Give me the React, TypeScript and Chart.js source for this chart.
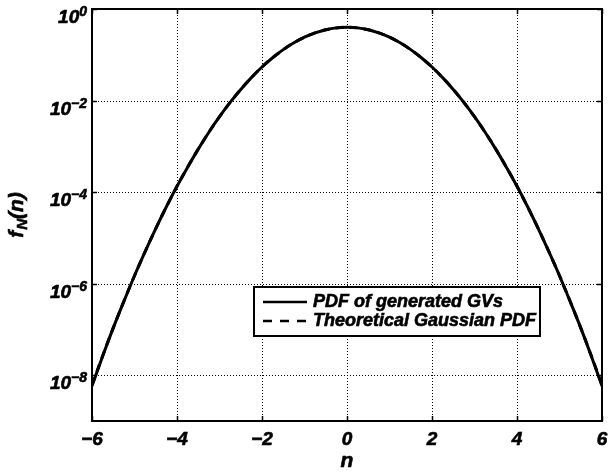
import React, { useEffect, useRef } from "react";
import { Chart, registerables } from "chart.js";

Chart.register(...registerables);

// sample positions n
const nValues = [
  -6, -5.75, -5.5, -5.25, -5, -4.75, -4.5, -4.25, -4, -3.75, -3.5, -3.25, -3,
  -2.75, -2.5, -2.25, -2, -1.75, -1.5, -1.25, -1, -0.75, -0.5, -0.25, 0,
  0.25, 0.5, 0.75, 1, 1.25, 1.5, 1.75, 2, 2.25, 2.5, 2.75, 3, 3.25, 3.5,
  3.75, 4, 4.25, 4.5, 4.75, 5, 5.25, 5.5, 5.75, 6,
];

// estimated PDF of the generated values
const pdfGenerated = [
  5.8e-9, 2.6e-8, 1.08e-7, 4.1e-7, 1.49e-6, 5.0e-6, 1.6e-5, 4.8e-5, 1.34e-4,
  3.5e-4, 8.7e-4, 2.03e-3, 4.43e-3, 9.1e-3, 1.75e-2, 3.17e-2, 5.4e-2, 8.6e-2,
  0.1295, 0.1826, 0.242, 0.301, 0.352, 0.387, 0.399,
  0.387, 0.352, 0.301, 0.242, 0.1826, 0.1295, 8.6e-2, 5.4e-2, 3.17e-2,
  1.75e-2, 9.1e-3, 4.43e-3, 2.03e-3, 8.7e-4, 3.5e-4, 1.34e-4, 4.8e-5, 1.6e-5,
  5.0e-6, 1.49e-6, 4.1e-7, 1.08e-7, 2.6e-8, 5.8e-9,
];

// theoretical Gaussian PDF at the same positions
const pdfTheoretical = [
  6.1e-9, 2.64e-8, 1.08e-7, 4.13e-7, 1.49e-6, 5.03e-6, 1.6e-5, 4.77e-5,
  1.34e-4, 3.53e-4, 8.73e-4, 2.03e-3, 4.43e-3, 9.09e-3, 1.75e-2, 3.17e-2,
  5.4e-2, 8.63e-2, 0.1295, 0.1826, 0.242, 0.3011, 0.3521, 0.3867, 0.3989,
  0.3867, 0.3521, 0.3011, 0.242, 0.1826, 0.1295, 8.63e-2, 5.4e-2, 3.17e-2,
  1.75e-2, 9.09e-3, 4.43e-3, 2.03e-3, 8.73e-4, 3.53e-4, 1.34e-4, 4.77e-5,
  1.6e-5, 5.03e-6, 1.49e-6, 4.13e-7, 1.08e-7, 2.64e-8, 6.1e-9,
];

const xTicks = [-6, -4, -2, 0, 2, 4, 6];
const xTickLabels = ["\u22126", "\u22124", "\u22122", "0", "2", "4", "6"];
const yTickExponents = [0, -2, -4, -6, -8];
const legendLabels = ["PDF of generated GVs", "Theoretical Gaussian PDF"];

const FONT_FAMILY = "'Liberation Sans', Arial, sans-serif";
const font = (size: number) => `italic bold ${size}px ${FONT_FAMILY}`;

// bold text with a thin outline to thicken the strokes
function heavyText(ctx: CanvasRenderingContext2D, s: string, x: number, y: number) {
  ctx.fillText(s, x, y);
  ctx.lineWidth = 0.6;
  ctx.strokeText(s, x, y);
}

const decorations = {
  id: "matlabDecorations",
  beforeDatasetsDraw(chart: any) {
    const { ctx, chartArea: a, scales } = chart;
    const x = scales.x;
    const y = scales.y;
    ctx.save();
    ctx.strokeStyle = "#000";
    ctx.lineWidth = 1;
    ctx.setLineDash([1, 2]);
    for (const t of xTicks) {
      const px = Math.round(x.getPixelForValue(t)) + 0.5;
      ctx.beginPath();
      ctx.moveTo(px, a.top);
      ctx.lineTo(px, a.bottom);
      ctx.stroke();
    }
    for (const e of yTickExponents) {
      const py = Math.round(y.getPixelForValue(Math.pow(10, e))) + 0.5;
      ctx.beginPath();
      ctx.moveTo(a.left, py);
      ctx.lineTo(a.right, py);
      ctx.stroke();
    }
    ctx.restore();
  },
  afterDraw(chart: any) {
    const { ctx, chartArea: a, scales } = chart;
    const x = scales.x;
    const y = scales.y;
    ctx.save();
    ctx.setLineDash([]);
    ctx.strokeStyle = "#000";
    ctx.fillStyle = "#000";

    // inward tick marks
    ctx.lineWidth = 1.5;
    const tl = 5;
    for (const t of xTicks) {
      const px = Math.round(x.getPixelForValue(t)) + 0.5;
      ctx.beginPath();
      ctx.moveTo(px, a.bottom);
      ctx.lineTo(px, a.bottom - tl);
      ctx.moveTo(px, a.top);
      ctx.lineTo(px, a.top + tl);
      ctx.stroke();
    }
    for (const e of yTickExponents) {
      const py = Math.round(y.getPixelForValue(Math.pow(10, e))) + 0.5;
      ctx.beginPath();
      ctx.moveTo(a.left, py);
      ctx.lineTo(a.left + tl, py);
      ctx.moveTo(a.right, py);
      ctx.lineTo(a.right - tl, py);
      ctx.stroke();
    }

    // axes box
    ctx.lineWidth = 2;
    ctx.strokeRect(a.left, a.top, a.right - a.left, a.bottom - a.top);

    // x tick labels
    ctx.font = font(19);
    ctx.textAlign = "center";
    ctx.textBaseline = "middle";
    xTicks.forEach((t, i) => {
      heavyText(ctx, xTickLabels[i], x.getPixelForValue(t), a.bottom + 19);
    });

    // y tick labels: 10 with superscript exponent
    ctx.textBaseline = "alphabetic";
    yTickExponents.forEach((e) => {
      const py = y.getPixelForValue(Math.pow(10, e));
      const sup = e === 0 ? "0" : "\u2212" + String(-e);
      ctx.font = font(14);
      const supW = ctx.measureText(sup).width;
      ctx.font = font(19);
      const baseW = ctx.measureText("10").width;
      const right = a.left - 5;
      ctx.textAlign = "left";
      heavyText(ctx, "10", right - supW - baseW, py + 14);
      ctx.font = font(14);
      heavyText(ctx, sup, right - supW, py + 7);
    });

    // x axis title
    ctx.font = font(21);
    ctx.textAlign = "center";
    ctx.textBaseline = "middle";
    heavyText(ctx, "n", (a.left + a.right) / 2, a.bottom + 40);

    // y axis title f_N(n)
    ctx.save();
    ctx.translate(16, (a.top + a.bottom) / 2);
    ctx.rotate(-Math.PI / 2);
    ctx.textBaseline = "alphabetic";
    ctx.font = font(21);
    const wF = ctx.measureText("f").width;
    const wP = ctx.measureText("(n)").width;
    ctx.font = font(15);
    const wN = ctx.measureText("N").width;
    const total = wF + wN + wP + 1;
    let cx = -total / 2;
    ctx.textAlign = "left";
    ctx.font = font(21);
    heavyText(ctx, "f", cx, 7);
    cx += wF + 1;
    ctx.font = font(15);
    heavyText(ctx, "N", cx, 11);
    cx += wN;
    ctx.font = font(21);
    heavyText(ctx, "(n)", cx, 7);
    ctx.restore();

    // legend
    const lx = a.left + 162;
    const ly = a.top + 278;
    const lw = 286;
    const lh = 49;
    ctx.fillStyle = "#fff";
    ctx.fillRect(lx, ly, lw, lh);
    ctx.lineWidth = 2;
    ctx.strokeStyle = "#000";
    ctx.strokeRect(lx, ly, lw, lh);
    ctx.fillStyle = "#000";
    ctx.font = font(18);
    ctx.textAlign = "left";
    ctx.textBaseline = "middle";
    const rows = [ly + 15, ly + 34];
    ctx.lineWidth = 2.5;
    ctx.beginPath();
    ctx.moveTo(lx + 9, rows[0]);
    ctx.lineTo(lx + 53, rows[0]);
    ctx.stroke();
    ctx.setLineDash([9, 8]);
    ctx.beginPath();
    ctx.moveTo(lx + 9, rows[1]);
    ctx.lineTo(lx + 53, rows[1]);
    ctx.stroke();
    ctx.setLineDash([]);
    heavyText(ctx, legendLabels[0], lx + 59, rows[0]);
    heavyText(ctx, legendLabels[1], lx + 59, rows[1]);
    ctx.restore();
  },
};

export default function App() {
  const canvasRef = useRef<HTMLCanvasElement | null>(null);

  useEffect(() => {
    document.body.style.margin = "0";
    const canvas = canvasRef.current;
    if (!canvas) return;
    const chart = new Chart(canvas, {
      type: "line",
      data: {
        datasets: [
          {
            label: legendLabels[0],
            data: nValues.map((n, i) => ({ x: n, y: pdfGenerated[i] })),
            borderColor: "#000",
            borderWidth: 3,
            pointRadius: 0,
            cubicInterpolationMode: "monotone",
            fill: false,
          },
          {
            label: legendLabels[1],
            data: nValues.map((n, i) => ({ x: n, y: pdfTheoretical[i] })),
            borderColor: "#000",
            borderWidth: 3,
            borderDash: [8, 6],
            pointRadius: 0,
            cubicInterpolationMode: "monotone",
            fill: false,
          },
        ],
      },
      options: {
        animation: false,
        responsive: false,
        maintainAspectRatio: false,
        layout: { padding: { top: 9, right: 7, left: 0, bottom: 0 } },
        plugins: {
          legend: { display: false },
          tooltip: { enabled: false },
        },
        scales: {
          x: {
            type: "linear",
            min: -6,
            max: 6,
            grid: { display: false },
            border: { display: false },
            ticks: { display: false },
            afterFit: (s: any) => {
              s.height = 53;
            },
          },
          y: {
            type: "logarithmic",
            min: 1e-9,
            max: 1,
            grid: { display: false },
            border: { display: false },
            ticks: { display: false },
            afterFit: (s: any) => {
              s.width = 92;
            },
          },
        },
      },
      plugins: [decorations],
    });
    return () => chart.destroy();
  }, []);

  return (
    <div style={{ position: "absolute", left: 0, top: 0, width: 609, height: 474, background: "#fff" }}>
      <canvas ref={canvasRef} width={609} height={474} />
    </div>
  );
}
